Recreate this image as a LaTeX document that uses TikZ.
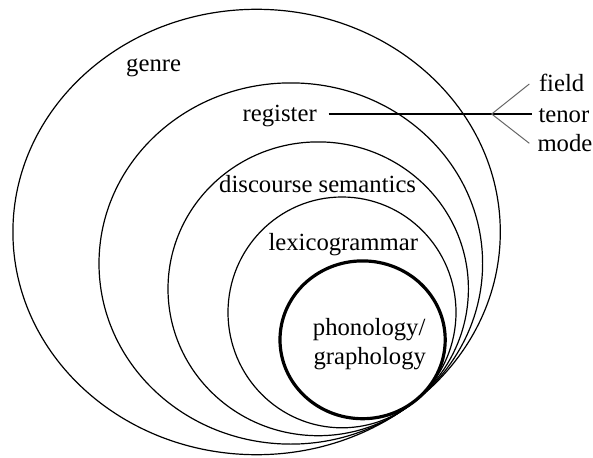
\documentclass[tikz,border=0pt]{standalone}
\usepackage{fontspec}
\setmainfont{Liberation Serif}
\usetikzlibrary{calc}
\begin{document}
\begin{tikzpicture}[x=1pt,y=-1pt,
  ring/.style={draw=black,line width=1.2pt},
  corering/.style={draw=black,line width=3.2pt},
  lbl/.style={inner sep=0pt,anchor=base west,font=\fontsize{24.7}{29}\selectfont},
  link/.style={draw=black,line width=1.2pt},
  branch/.style={draw=black!60,line width=1pt}]
\useasboundingbox (0,0) rectangle (593,457);

% nested strata, all touching at one point on the lower right
\draw[ring] (256.6,232.0) ellipse [x radius=243.7pt, y radius=222.7pt];
\draw[ring] (290.8,263.5) ellipse [x radius=191.8pt, y radius=180.6pt];
\draw[ring] (318.2,288.8) ellipse [x radius=150.2pt, y radius=146.9pt];
\draw[ring] (342.0,312.4) ellipse [x radius=114.0pt, y radius=115.4pt];
\draw[corering] (362.6,339.8) ellipse [x radius=82.6pt, y radius=78.9pt];

% stratum labels
\node[lbl] (genre) at (126,71.5) {genre};
\node[lbl] (reg) at (242.5,122) {register};
\node[lbl] (disc) at (219,192.7) {discourse semantics};
\node[lbl] (lex) at (268.3,250.7) {lexicogrammar};
\node[lbl] (phon) at (312.7,335) {phonology/};
\node[lbl] (graph) at (313.3,364) {graphology};

% register variables
\node[lbl] (field) at (538.8,91.7) {field};
\node[lbl] (tenor) at (538.3,122.3) {tenor};
\node[lbl] (mode) at (537.3,151.7) {mode};

\coordinate (fork) at (491.7,114);
\coordinate (fieldend) at (529.3,84);
\coordinate (modeend) at (529.3,143.3);

\draw[link] ($(reg.east |- fork)+(11.7,0)$) -- (fork) -- ($(tenor.west |- fork)+(-6.6,0)$);
\draw[branch] (fieldend) -- (fork) -- (modeend);
\end{tikzpicture}
\end{document}
